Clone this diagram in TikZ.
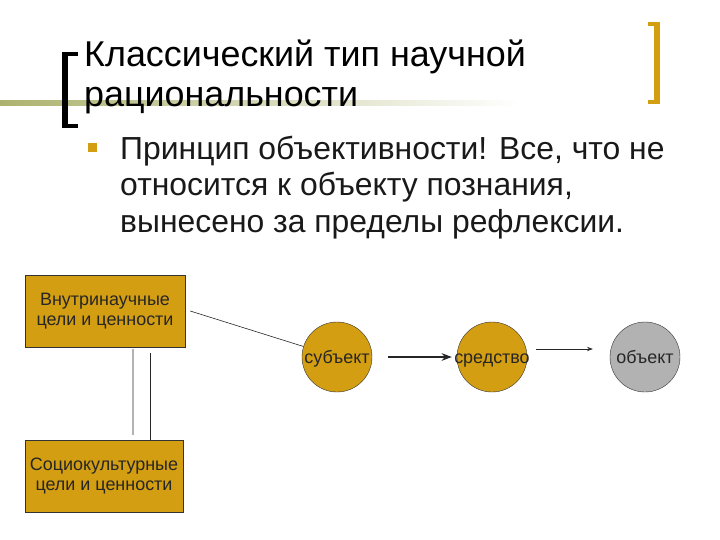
\documentclass[tikz,border=0pt]{standalone}
\usepackage{fontspec}
\setmainfont{Liberation Sans}
\usetikzlibrary{arrows.meta, positioning}
\definecolor{gold}{RGB}{212,158,18}
\definecolor{ash}{RGB}{178,178,178}
\definecolor{olive}{RGB}{172,178,110}
\tikzset{>=Stealth,
  goalbox/.style={draw=black!80, fill=gold, minimum width=160bp, minimum height=72bp,
    align=center, font=\fontsize{18}{20.5}\selectfont, text=black!85},
  stage/.style={circle, draw=black!80, fill=gold, minimum size=70bp, inner sep=0pt,
    label={[font=\fontsize{18}{20}\selectfont, text=black!85, inner sep=0pt,
      text height=12bp, text depth=0bp]center:#1}},
  link/.style={black!85, line width=0.6bp}}

\begin{document}
\begin{tikzpicture}[x=1bp, y=-1bp]
    \useasboundingbox (0,0) rectangle (720,540);
    % header: underline and brackets
    \shade[left color=olive, right color=white] (0,101) rectangle (520,106);
    \fill[black] (62,52) rectangle (68,128);
    \fill[black] (62,52) rectangle (78,56);
    \fill[black] (62,124) rectangle (78,128);
    \fill[gold] (654,22) rectangle (660,104);
    \fill[gold] (648,22) rectangle (660,26);
    \fill[gold] (648,100) rectangle (660,104);
    \node[anchor=north west, inner sep=0pt, align=left, font=\fontsize{36}{40}\selectfont]
      (title) at (84,40) {Классический тип научной\\рациональности};
    % bullet
    \fill[gold] (88,143) rectangle (97,152);
    \node[anchor=north west, inner sep=0pt, align=left, font=\fontsize{32}{36.5}\selectfont, text=black!90]
      (claim) at (120,136) {Принцип объективности! Все, что не\\относится к объекту познания,\\вынесено за пределы рефлексии.};
    % diagram
    \node[goalbox] (inner) at (105,311) {Внутринаучные\\цели и ценности};
    \node[goalbox, minimum width=158bp] (social) at (104,476) {Социокультурные\\цели и ценности};
    \node[stage=субъект] (subj) at (337,357) {};
    \node[stage=средство] (means) at (492,357) {};
    \node[stage=объект, fill=ash] (obj) at (645,357) {};
    \draw[link] ([xshift=5bp]inner.east) -- (subj);
    \draw[link] ([xshift=28bp, yshift=-2bp]inner.south) -- ([xshift=29bp, yshift=5bp]social.north);
    \draw[link] ([xshift=45bp, yshift=-6bp]inner.south) -- ([xshift=46bp]social.north);
    \draw[->, link, line width=1.6bp, shorten <=16bp, shorten >=5bp] (subj) -- (means);
    \draw[->, link, shorten <=9bp, shorten >=17bp] ([yshift=8bp]means.east) -- ([yshift=8bp]obj.west);
\end{tikzpicture}
\end{document}
